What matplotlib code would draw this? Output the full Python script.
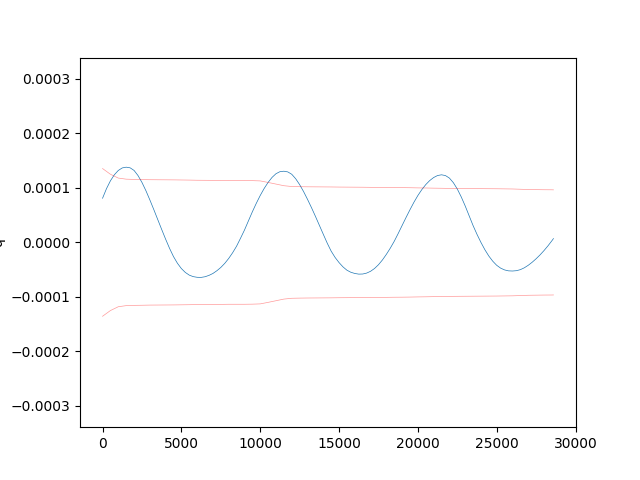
import numpy as np
import matplotlib
matplotlib.use("Agg")
import matplotlib.pyplot as plt

# signal sample positions (every 250, plus final sample)
sig_x = list(range(0, 28501, 250)) + [28600]

# signal values (units of 1e-6)
signal_e6 = [81, 98.6, 113, 124.1, 132, 136.6, 138, 136.8, 132, 122.6,
             110, 94.9, 78, 60.3, 42, 23.8, 6, -10.9, -26, -38.3,
             -48, -55.1, -60, -62.8, -64, -64.2, -63, -60.5, -57, -52,
             -46, -38.5, -29.5, -19, -7, 7.5, 22.5, 39.3, 56, 71.6,
             86, 98.9, 110, 119.2, 126, 129.7, 130.6, 129.3, 125, 116.8,
             106, 93.3, 79, 63.9, 48, 31.5, 15, -1.3, -16, -27.6,
             -37, -44.9, -51, -54.8, -57, -58.2, -58, -56.3, -53, -47.9,
             -41, -32.3, -22, -10.6, 2, 16.2, 31, 45.7, 60, 73.6,
             86, 96.8, 106, 113.4, 119, 122.7, 124, 122.6, 118, 109.6,
             98, 83.5, 67, 49, 31, 14.8, 0, -13.4, -25, -34.5,
             -42, -47.2, -50.5, -52.2, -52.5, -51.9, -50, -46.6, -42, -36.4,
             -30, -22.9, -15, -6.4, 3, 7]

# envelope sample positions (every 500, plus final sample)
env_x = list(range(0, 28501, 500)) + [28600]

# upper envelope (units of 1e-6)
upper_e6 = [135.5, 125, 118, 116, 115.5, 115.3, 115, 114.9, 114.8, 114.7,
            114.5, 114.3, 114, 113.9, 113.8, 113.7, 113.5, 113.5, 113.5, 113.3,
            112.8, 110, 107, 104, 102.5, 102.2, 102, 101.9, 101.8, 101.7,
            101.5, 101.4, 101.3, 101.2, 101, 100.9, 100.8, 100.6, 100.5, 100.3,
            100, 99.8, 99.5, 99.3, 99, 98.9, 98.8, 98.7, 98.6, 98.5,
            98.4, 98.2, 98, 97.5, 97, 96.8, 96.6, 96.5, 96.4]

# lower envelope (units of 1e-6)
lower_e6 = [-135.5, -125, -118, -116, -115.5, -115.3, -115, -114.9, -114.8, -114.7,
            -114.5, -114.3, -114, -113.9, -113.8, -113.7, -113.5, -113.5, -113.5, -113.3,
            -112.8, -110, -107, -104, -102.5, -102.2, -102, -101.9, -101.8, -101.7,
            -101.5, -101.4, -101.3, -101.2, -101, -100.9, -100.8, -100.6, -100.5, -100.3,
            -100, -99.8, -99.5, -99.3, -99, -98.9, -98.8, -98.7, -98.6, -98.5,
            -98.4, -98.2, -98, -97.5, -97, -96.8, -96.6, -96.5, -96.4]

sx = np.array(sig_x, dtype=float)
ex = np.array(env_x, dtype=float)
sig = np.array(signal_e6) * 1e-6
up = np.array(upper_e6) * 1e-6
lo = np.array(lower_e6) * 1e-6

fig, ax = plt.subplots(figsize=(6.4, 4.8), dpi=100)
ax.plot(sx, sig, color="C0", lw=0.5)
ax.plot(ex, up, color="red", lw=0.5, alpha=0.4)
ax.plot(ex, lo, color="red", lw=0.5, alpha=0.4)
ax.set_ylim(-0.000339, 0.000339)
ax.set_ylabel("q")
fig.savefig("out.png", dpi=100)
